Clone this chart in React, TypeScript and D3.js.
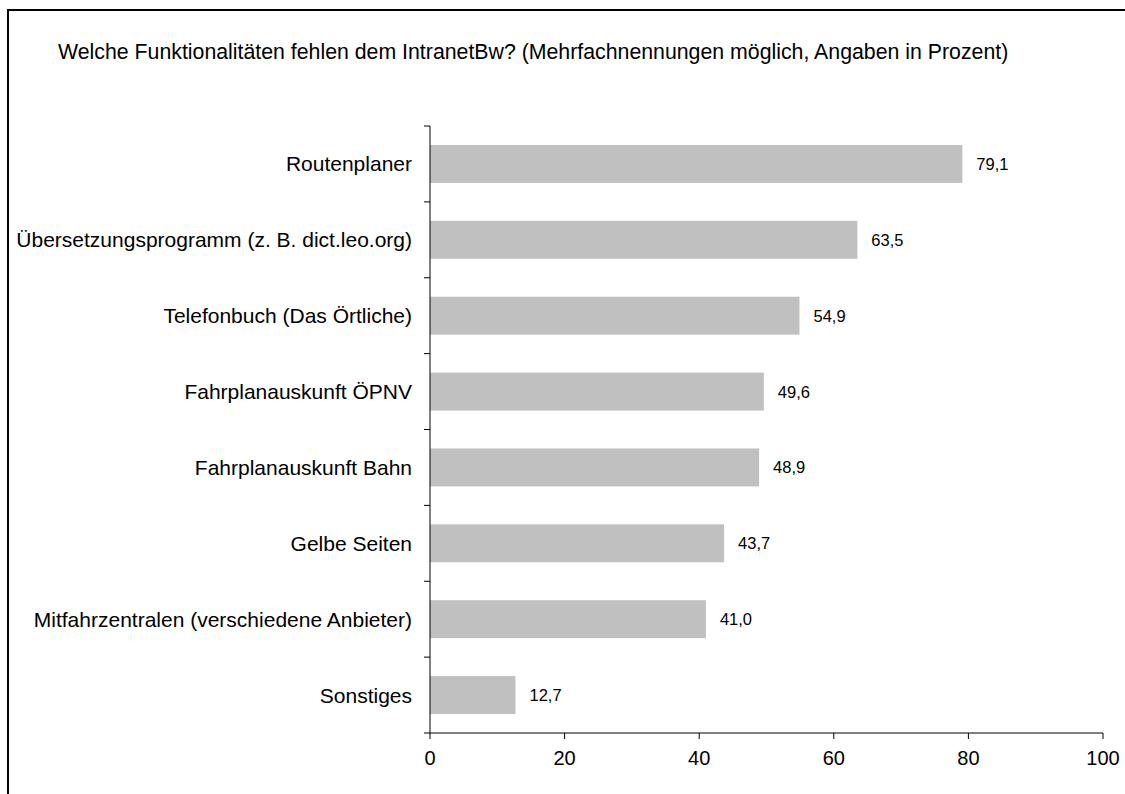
import React from "react";
import * as d3 from "d3";

const categories: string[] = [
  "Routenplaner",
  "Übersetzungsprogramm (z. B. dict.leo.org)",
  "Telefonbuch (Das Örtliche)",
  "Fahrplanauskunft ÖPNV",
  "Fahrplanauskunft Bahn",
  "Gelbe Seiten",
  "Mitfahrzentralen (verschiedene Anbieter)",
  "Sonstiges",
];
const values: number[] = [79.1, 63.5, 54.9, 49.6, 48.9, 43.7, 41.0, 12.7];
const xTicks: number[] = [0, 20, 40, 60, 80, 100];
const title =
  "Welche Funktionalitäten fehlen dem IntranetBw? (Mehrfachnennungen möglich, Angaben in Prozent)";

const W = 1125;
const H = 794;
const FONT = "'Liberation Sans', Arial, sans-serif";

export default function App() {
  const x = d3.scaleLinear().domain([0, 100]).range([430, 1103]);
  const y = d3
    .scaleBand<string>()
    .domain(categories)
    .range([126, 733])
    .paddingInner(0.5)
    .paddingOuter(0.25);
  const step = y.step();
  const y0 = 126;
  const fmt = (v: number) => v.toFixed(1).replace(".", ",");
  const bounds = d3.range(categories.length + 1).map((i) => y0 + i * step);

  return (
    <svg
      width={W}
      height={H}
      style={{ position: "absolute", left: 0, top: 0, background: "#fff" }}
      fontFamily={FONT}
    >
      <rect x={0} y={0} width={W} height={H} fill="#fff" />
      <rect x={8} y={10} width={W + 50} height={H + 50} fill="none" stroke="#000" strokeWidth={2} />
      <text x={58} y={59} fontSize={21.3} fill="#000">
        {title}
      </text>
      {categories.map((c, i) => (
        <g key={c}>
          <rect
            x={x(0)}
            y={y(c)!}
            width={x(values[i]) - x(0)}
            height={y.bandwidth()}
            fill="#c0c0c0"
          />
          <text
            x={412}
            y={y(c)! + y.bandwidth() / 2}
            dy="0.36em"
            textAnchor="end"
            fontSize={21}
            fill="#000"
          >
            {c}
          </text>
          <text
            x={x(values[i]) + 14}
            y={y(c)! + y.bandwidth() / 2}
            dy="0.36em"
            fontSize={16.5}
            fill="#000"
          >
            {fmt(values[i])}
          </text>
        </g>
      ))}
      <line x1={430} x2={430} y1={126} y2={733} stroke="#000" strokeWidth={1} />
      {bounds.map((b, i) => (
        <line key={"yt" + i} x1={424} x2={430} y1={b} y2={b} stroke="#000" strokeWidth={1} />
      ))}
      <line x1={430} x2={1103} y1={733} y2={733} stroke="#000" strokeWidth={1} />
      {xTicks.map((t) => (
        <g key={"xt" + t}>
          <line x1={x(t)} x2={x(t)} y1={733} y2={739} stroke="#000" strokeWidth={1} />
          <text x={x(t)} y={765} textAnchor="middle" fontSize={20} fill="#000">
            {t}
          </text>
        </g>
      ))}
    </svg>
  );
}
